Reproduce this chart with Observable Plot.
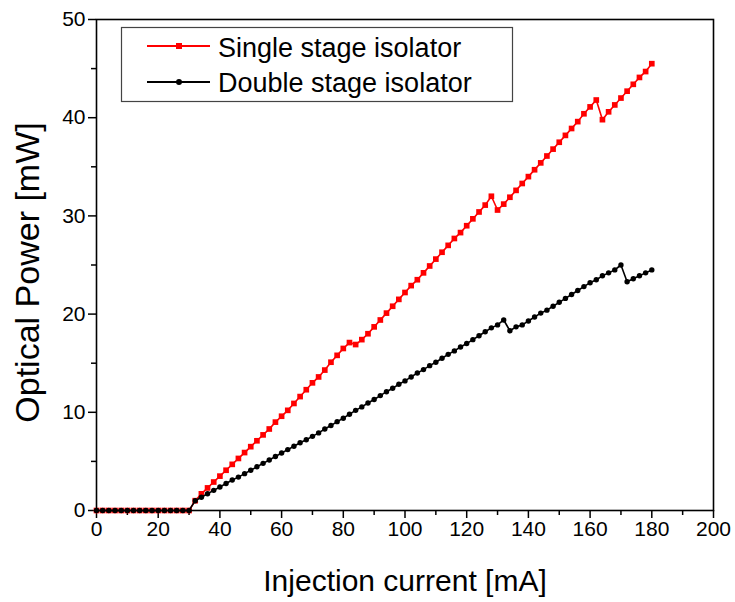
<!DOCTYPE html>
<html>
<head>
<meta charset="utf-8">
<script src="https://cdn.jsdelivr.net/npm/d3@7"></script>
<script src="https://cdn.jsdelivr.net/npm/@observablehq/plot@0.6"></script>
<style>
  html, body { margin: 0; padding: 0; background: #fff; }
  #chart svg { display: block; }
</style>
</head>
<body>
<div id="chart"></div>
<script>
// Injection current (mA), sampled every 2 mA
const current = [0,2,4,6,8,10,12,14,16,18,20,22,24,26,28,30,
  32,34,36,38,40,42,44,46,48,50,52,54,56,58,60,62,64,66,68,70,72,74,76,78,80,
  82,84,86,88,90,92,94,96,98,100,102,104,106,108,110,112,114,116,118,120,
  122,124,126,128,130,132,134,136,138,140,142,144,146,148,150,152,154,156,158,160,
  162,164,166,168,170,172,174,176,178,180];

// Optical power (mW) — single stage isolator
const singleStage = [0,0,0,0,0,0,0,0,0,0,0,0,0,0,0,0,
  1.0,1.7,2.3,2.9,3.5,4.1,4.7,5.3,5.9,6.5,7.1,7.7,8.3,9.0,9.6,10.2,10.9,11.6,12.3,13.0,13.6,14.3,15.1,15.8,16.5,
  17.1,16.9,17.4,18.0,18.7,19.4,20.1,20.8,21.5,22.2,22.9,23.5,24.2,24.9,25.6,26.3,27.0,27.7,28.3,29.0,
  29.7,30.4,31.1,32.0,30.6,31.2,31.9,32.6,33.3,34.0,34.7,35.4,36.1,36.8,37.5,38.2,38.9,39.6,40.4,41.1,
  41.8,39.8,40.6,41.3,42.0,42.7,43.4,44.1,44.7,45.5];

// Optical power (mW) — double stage isolator
const doubleStage = [0,0,0,0,0,0,0,0,0,0,0,0,0,0,0,0,
  1.0,1.35,1.7,2.05,2.4,2.75,3.1,3.4,3.75,4.1,4.45,4.8,5.15,5.5,5.85,6.2,6.55,6.9,7.2,7.55,7.9,8.3,8.65,9.05,9.4,
  9.8,10.2,10.55,10.95,11.3,11.7,12.1,12.45,12.85,13.2,13.6,14.0,14.35,14.75,15.1,15.5,15.9,16.25,16.65,17.0,
  17.4,17.8,18.2,18.6,18.9,19.4,18.3,18.7,18.9,19.3,19.7,20.1,20.4,20.8,21.2,21.6,22.0,22.4,22.8,23.2,
  23.5,23.9,24.2,24.5,25.0,23.3,23.6,23.9,24.2,24.5];

const seriesNames = ["Single stage isolator", "Double stage isolator"];
const seriesColors = ["#ff0000", "#000000"];
const xMajorTicks = [0,20,40,60,80,100,120,140,160,180,200];
const xMinorTicks = [10,30,50,70,90,110,130,150,170,190];
const yMajorTicks = [0,10,20,30,40,50];
const yMinorTicks = [5,15,25,35,45];
const xLabel = "Injection current [mA]";
const yLabel = "Optical Power [mW]";

const single = current.map((c, i) => ({x: c, y: singleStage[i]}));
const dbl = current.map((c, i) => ({x: c, y: doubleStage[i]}));

const font = "'Liberation Sans', Arial, Helvetica, sans-serif";

const chart = Plot.plot({
  width: 735,
  height: 602,
  marginLeft: 96,
  marginRight: 22,
  marginTop: 19,
  marginBottom: 92,
  style: {fontFamily: font, color: "#000", background: "#fff"},
  x: {domain: [0, 200]},
  y: {domain: [0, 50]},
  marks: [
    Plot.axisX({ticks: xMajorTicks, tickSize: 8, tickPadding: 3, fontSize: 21, label: null, strokeWidth: 1.5, tickFormat: d3.format("d")}),
    Plot.axisX({ticks: xMinorTicks, tickSize: 5, text: null, label: null, strokeWidth: 1.5}),
    Plot.axisY({ticks: yMajorTicks, tickSize: 8, tickPadding: 3, fontSize: 21, label: null, strokeWidth: 1.5}),
    Plot.axisY({ticks: yMinorTicks, tickSize: 5, text: null, label: null, strokeWidth: 1.5}),
    Plot.text([xLabel], {frameAnchor: "bottom", dy: 80, fontSize: 30, fill: "#000"}),
    Plot.line(single, {x: "x", y: "y", stroke: seriesColors[0], strokeWidth: 1.6}),
    Plot.dot(single, {x: "x", y: "y", symbol: "square", r: 3.2, fill: seriesColors[0]}),
    Plot.line(dbl, {x: "x", y: "y", stroke: seriesColors[1], strokeWidth: 1.6}),
    Plot.dot(dbl, {x: "x", y: "y", symbol: "circle", r: 2.7, fill: seriesColors[1]}),
    Plot.frame({stroke: "#000", strokeWidth: 1.6})
  ]
});

document.getElementById("chart").appendChild(chart);

const svg = d3.select(chart);

// Y axis title, centred on the y scale's range
const yr = chart.scale("y").range;
const yMid = (yr[0] + yr[1]) / 2 + 8;
svg.append("text")
  .attr("transform", `translate(39,${yMid}) rotate(-90)`)
  .attr("text-anchor", "middle")
  .attr("font-family", font)
  .attr("font-size", 34)
  .attr("fill", "#000")
  .text(yLabel);

// Legend drawn inside the SVG
const lg = svg.append("g").attr("font-family", font).attr("text-anchor", "start");
lg.append("rect").attr("x", 121.5).attr("y", 27.5).attr("width", 391).attr("height", 74)
  .attr("fill", "#fff").attr("stroke", "#444").attr("stroke-width", 1.2);
const rowY = [46, 82];
const textY = [57, 92];
seriesNames.forEach((name, i) => {
  lg.append("line").attr("x1", 147).attr("x2", 210).attr("y1", rowY[i]).attr("y2", rowY[i])
    .attr("stroke", seriesColors[i]).attr("stroke-width", 2.2);
  if (i === 0) {
    lg.append("rect").attr("x", 176).attr("y", rowY[i] - 3).attr("width", 6).attr("height", 6).attr("fill", seriesColors[i]);
  } else {
    lg.append("circle").attr("cx", 179).attr("cy", rowY[i]).attr("r", 3).attr("fill", seriesColors[i]);
  }
  lg.append("text").attr("x", 218).attr("y", textY[i]).attr("font-size", 27)
    .attr("text-anchor", "start").attr("fill", "#000").text(name);
});
</script>
</body>
</html>
